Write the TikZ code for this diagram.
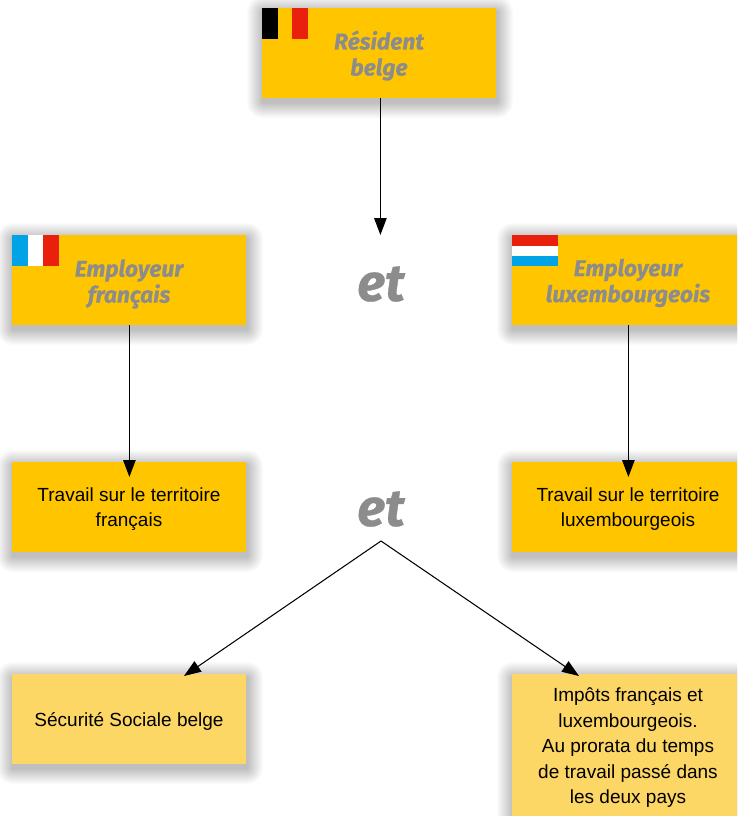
\documentclass[tikz,border=0pt]{standalone}
\usepackage{fontspec}
\setmainfont{Liberation Sans}
\newfontfamily\headfont[BoldItalicFeatures={FakeBold=0.6}]{Fira Sans}
\usetikzlibrary{arrows.meta,calc}
\definecolor{boxdark}{HTML}{FFC600}
\definecolor{boxlight}{HTML}{FDD765}
\definecolor{headgray}{HTML}{8C8C8C}
\definecolor{flagblue}{HTML}{00A3E6}
\definecolor{flagred}{HTML}{E8200C}
\tikzset{
  x=1pt,y=-1pt,
  cardbox/.style={anchor=north west,minimum width=234pt,minimum height=90pt,inner sep=0pt,outer sep=0pt,align=center,fill=boxdark},
  lightbox/.style={cardbox,fill=boxlight},
  head/.style={font=\headfont\bfseries\itshape\fontsize{22.8}{26}\selectfont,text=headgray,align=center,inner sep=0pt},
  body/.style={font=\fontsize{19}{25.5}\selectfont,text=black,align=center,inner sep=0pt},
  etlabel/.style={font=\headfont\bfseries\itshape\fontsize{52}{52}\selectfont,text=headgray,inner sep=0pt},
  link/.style={draw=black,line width=1.05pt,-{Triangle[length=17pt,width=12.5pt]}},
  softshadow/.style={fill=black,fill opacity=0.017,draw=none}
}
\newcommand{\softrect}[4]{%
  \foreach \g in {16,15,...,1}{%
    \fill[softshadow,rounded corners=\g pt] (#1-\g+1,#2-\g+4) rectangle (#3+\g+1,#4+\g+4);
  }%
}
\begin{document}
\begin{tikzpicture}
\useasboundingbox (0,0) rectangle (737,816);
\fill[white] (0,0) rectangle (737,816);
\begin{scope}
\clip (0,0) rectangle (737,816);
\softrect{262}{8}{496}{98}
\softrect{12}{235}{246}{325}
\softrect{512}{235}{760}{325}
\softrect{12}{462}{246}{552}
\softrect{512}{462}{760}{552}
\softrect{12}{674}{246}{764}
\softrect{512}{674}{760}{830}
\end{scope}
\node[cardbox] (res) at (262,8) {};
\node[cardbox] (empf) at (12,235) {};
\node[cardbox,minimum width=225pt] (empl) at (512,235) {};
\node[cardbox] (trf) at (12,462) {};
\node[cardbox,minimum width=225pt] (trl) at (512,462) {};
\node[lightbox] (secu) at (12,674) {};
\node[lightbox,minimum width=225pt,minimum height=142pt] (imp) at (512,674) {};
% flags
\fill[black] (262,8) rectangle (278,39);
\fill[flagred] (292,8) rectangle (308,39);
\fill[flagblue] (12,235) rectangle (28,266);
\fill[white] (28,235) rectangle (43,266);
\fill[flagred] (43,235) rectangle (59,266);
\fill[flagred] (512,235) rectangle (558,246);
\fill[white] (512,246) rectangle (558,256);
\fill[flagblue] (512,256) rectangle (558,266);
% texts
\node[head] (t1) at (379,55.5) {Résident\\belge};
\node[head] (t2) at (129,284) {Employeur\\français};
\node[head] (t3) at (628,283) {Employeur\\luxembourgeois};
\node[body] (t4) at (129,509) {Travail sur le territoire\\français};
\node[body] (t5) at (628,509) {Travail sur le territoire\\luxembourgeois};
\node[body] (t6) at (129,721) {Sécurité Sociale belge};
\node[body] (t7) at (628,748) {Impôts français et\\luxembourgeois.\\Au prorata du temps\\de travail passé dans\\les deux pays};
\node[etlabel] (et1) at (381,284) {et};
\node[etlabel] (et2) at (381,509) {et};
% connectors
\coordinate (a1) at (380.4,235);
\coordinate (a2) at (129.4,477);
\coordinate (a3) at (628.4,477);
\coordinate (f) at (381,541);
\coordinate (a4) at (184,676);
\coordinate (a5) at (579,676);
\draw[link] (res.south -| a1) -- (a1);
\draw[link] (empf.south -| a2) -- (a2);
\draw[link] (empl.south -| a3) -- (a3);
\draw[link] (f) -- (a4);
\draw[link] (f) -- (a5);
\end{tikzpicture}
\end{document}
